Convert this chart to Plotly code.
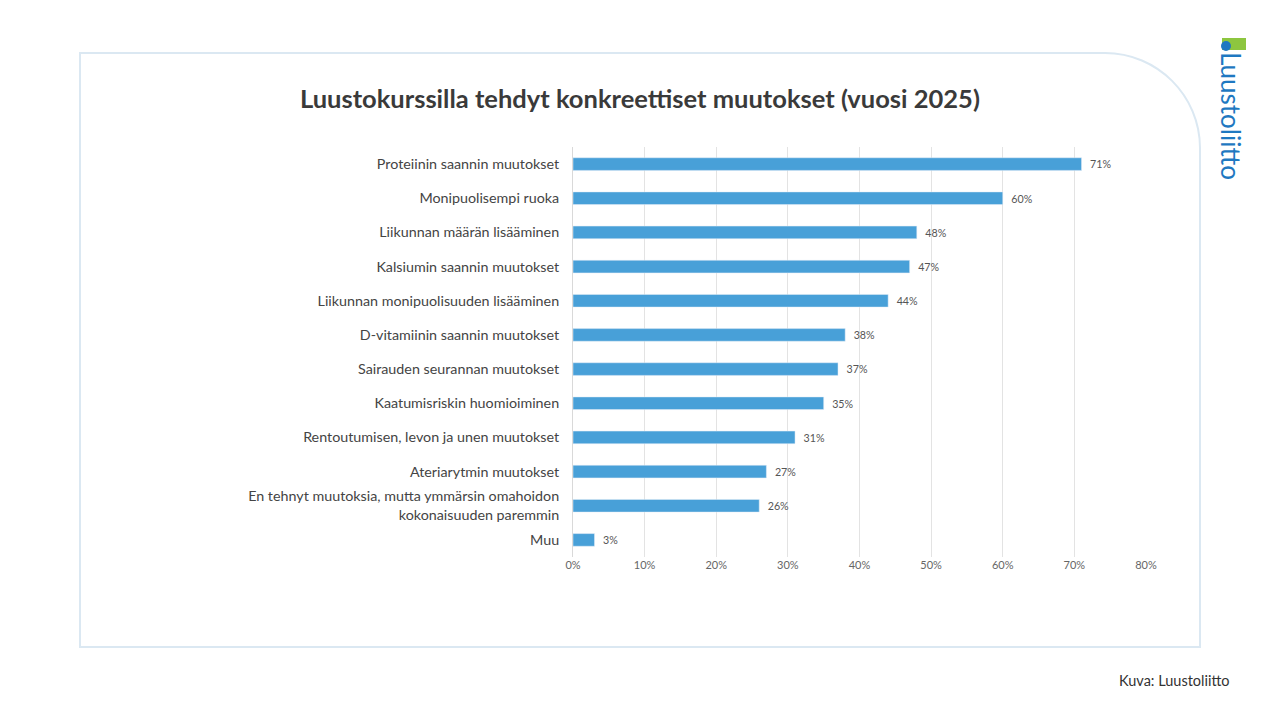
import plotly.graph_objects as go

categories = [
    "Proteiinin saannin muutokset",
    "Monipuolisempi ruoka",
    "Liikunnan määrän lisääminen",
    "Kalsiumin saannin muutokset",
    "Liikunnan monipuolisuuden lisääminen",
    "D-vitamiinin saannin muutokset",
    "Sairauden seurannan muutokset",
    "Kaatumisriskin huomioiminen",
    "Rentoutumisen, levon ja unen muutokset",
    "Ateriarytmin muutokset",
    "En tehnyt muutoksia, mutta ymmärsin omahoidon<br>kokonaisuuden paremmin",
    "Muu",
]
values = [71, 60, 48, 47, 44, 38, 37, 35, 31, 27, 26, 3]
tick_vals = [0, 10, 20, 30, 40, 50, 60, 70, 80]

FONT = "Lato"
OFF = 8  # page body margin
L, R, T, B = 573, 1146, 147, 557


def px(x):
    return (x - L) / (R - L)


def py(y):
    return (B - y) / (B - T)


fig = go.Figure(go.Bar(
    y=categories,
    x=values,
    orientation="h",
    width=0.37,
    marker_color="#48a0d8",
    text=[f"  {v}%" for v in values],
    textposition="outside",
    textfont=dict(size=11, color="#555555", family=FONT),
    cliponaxis=False,
    hoverinfo="skip",
))

# card with rounded top-right corner
x0, x1, y0, y1, r = 80, 1200, 53, 647, 95
k = 0.55 * r
path = (f"M {px(x0)},{py(y0)} L {px(x1 - r)},{py(y0)} "
        f"C {px(x1 - r + k)},{py(y0)} {px(x1)},{py(y0 + r - k)} {px(x1)},{py(y0 + r)} "
        f"L {px(x1)},{py(y1)} L {px(x0)},{py(y1)} Z")

fig.update_layout(
    width=1280, height=720,
    paper_bgcolor="white", plot_bgcolor="rgba(0,0,0,0)",
    margin=dict(l=L - OFF, r=1280 - R + OFF, t=T - OFF, b=720 - B + OFF, autoexpand=False),
    showlegend=False,
    font=dict(family=FONT, color="#444444"),
    shapes=[dict(type="path", xref="paper", yref="paper", path=path,
                 line=dict(color="#dbe8f2", width=2), fillcolor="rgba(0,0,0,0)", layer="below"),
            dict(type="rect", xref="paper", yref="paper",
                 x0=px(1222), x1=px(1246), y0=py(38), y1=py(50),
                 fillcolor="#8dc63f", line_width=0),
            dict(type="circle", xref="paper", yref="paper",
                 x0=px(1221), x1=px(1231), y0=py(41), y1=py(51),
                 fillcolor="#1f78c1", line_width=0)],
    annotations=[
        dict(text="<b>Luustokurssilla tehdyt konkreettiset muutokset (vuosi 2025)</b>",
             xref="paper", yref="paper", x=px(640), y=py(98), xanchor="center", yanchor="middle",
             showarrow=False, font=dict(size=25.5, color="#3a3a3a", family=FONT)),
        dict(text="Luustoliitto", textangle=90, xref="paper", yref="paper",
             x=px(1231), y=py(116), xanchor="center", yanchor="middle", showarrow=False,
             font=dict(size=26, color="#1f78c1", family=FONT)),
        dict(text="Kuva: Luustoliitto", xref="paper", yref="paper",
             x=px(1232), y=py(680), xanchor="right", yanchor="middle", showarrow=False,
             font=dict(size=14.5, color="#333333", family=FONT)),
    ],
)
fig.update_xaxes(range=[0, 80], tickvals=tick_vals, ticktext=[f"{v}%" for v in tick_vals],
                 showgrid=True, gridcolor="#e3e3e3", zeroline=False,
                 tickfont=dict(size=11, color="#666666"), ticks="", fixedrange=True)
fig.update_yaxes(autorange="reversed", tickfont=dict(size=14.3, color="#444444"),
                 ticks="", ticklabelstandoff=10, showline=True, linecolor="#d9d9d9")

fig.write_html("out.html")
